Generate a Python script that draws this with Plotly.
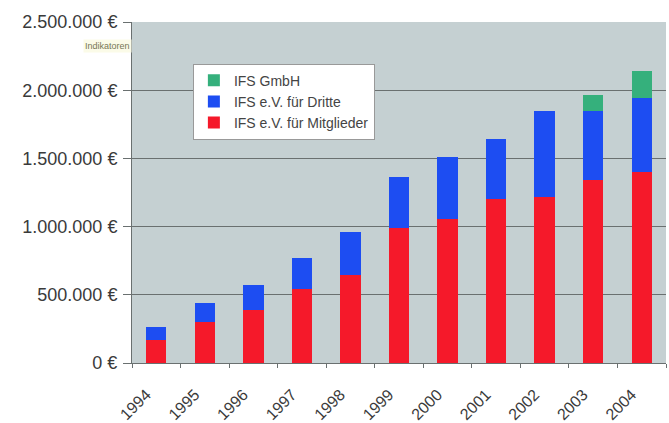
import plotly.graph_objects as go

years = ["1994", "1995", "1996", "1997", "1998", "1999", "2000", "2001", "2002", "2003", "2004"]
mitglieder = [172000, 300000, 388000, 545000, 644000, 990000, 1054000, 1200000, 1218000, 1341000, 1403000]
dritte = [94000, 138000, 182000, 224000, 316000, 376000, 456000, 444000, 628000, 510000, 540000]
gmbh = [0, 0, 0, 0, 0, 0, 0, 0, 0, 112000, 199000]

y_tickvals = [0, 500000, 1000000, 1500000, 2000000, 2500000]
y_ticktext = ["0 €", "500.000 €", "1.000.000 €", "1.500.000 €", "2.000.000 €", "2.500.000 €"]

fig = go.Figure()
fig.add_trace(go.Bar(x=years, y=mitglieder, name="IFS e.V. für Mitglieder",
                     marker=dict(color="#f5192a", line=dict(width=0))))
fig.add_trace(go.Bar(x=years, y=dritte, name="IFS e.V. für Dritte",
                     marker=dict(color="#1d4df2", line=dict(width=0))))
fig.add_trace(go.Bar(x=years, y=gmbh, name="IFS GmbH",
                     marker=dict(color="#35b07c", line=dict(width=0))))

fig.update_layout(
    barmode="stack",
    bargap=0.58,
    width=669, height=423,
    margin=dict(l=132, r=3, t=22, b=60),
    paper_bgcolor="white",
    plot_bgcolor="#c5d0d2",
    font=dict(family="Liberation Sans, Arial, sans-serif", color="#3a3a3a"),
    showlegend=True,
    legend=dict(
        x=0.114, y=0.878, xanchor="left", yanchor="top",
        traceorder="reversed",
        bgcolor="white", bordercolor="#999999", borderwidth=1,
        font=dict(size=14, color="#444444"),
        itemwidth=30, tracegroupgap=0,
    ),
    annotations=[dict(
        x=0, y=0.93, xref="paper", yref="paper", xanchor="right", yanchor="middle",
        text="Indikatoren", showarrow=False, font=dict(size=9, color="#777755"),
        bgcolor="#fbfbe8", borderpad=1,
    )],
)
fig.update_yaxes(
    range=[0, 2500000],
    tickvals=y_tickvals, ticktext=y_ticktext,
    showgrid=True, gridcolor="#6a7070", gridwidth=1,
    showline=True, linecolor="#6a7070", linewidth=1,
    ticks="outside", ticklen=8, tickcolor="#6a7070",
    ticklabelstandoff=2,
    tickfont=dict(size=18, color="#3a3a3a"),
    zeroline=False, automargin=False,
)
fig.update_xaxes(
    tickangle=-45,
    showline=True, linecolor="#6a7070", linewidth=1,
    ticks="outside", ticklen=4, tickcolor="#6a7070", tickson="boundaries",
    ticklabelstandoff=15, ticklabelshift=-10,
    tickfont=dict(size=16, color="#3a3a3a"),
    showgrid=False, automargin=False,
)

fig.write_html("out.html")
